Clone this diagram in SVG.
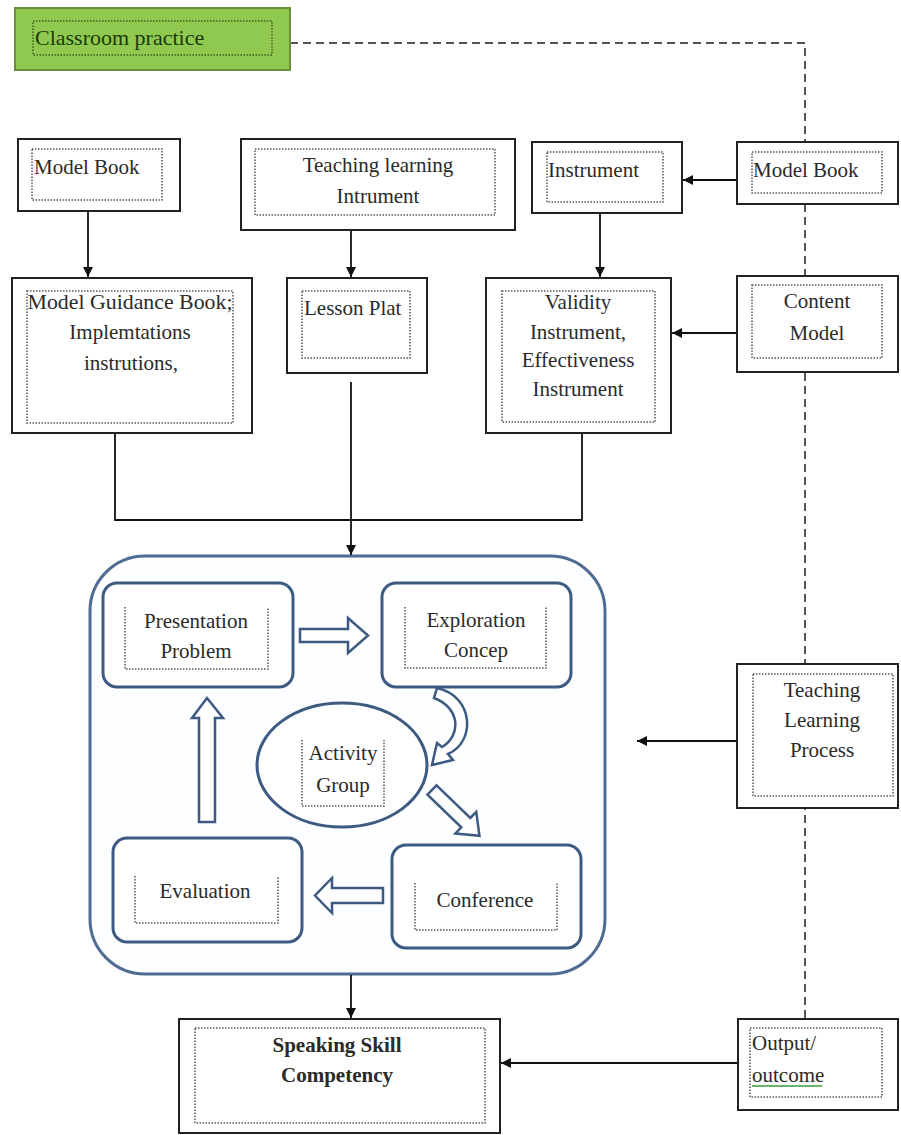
<svg xmlns="http://www.w3.org/2000/svg" width="901" height="1135" viewBox="0 0 901 1135" font-family="Liberation Serif, Times New Roman, serif">
<defs>
<marker id="ah" viewBox="0 0 10 10" refX="10" refY="5" markerWidth="10" markerHeight="10" markerUnits="userSpaceOnUse" orient="auto">
<path d="M0,0 L10,5 L0,10 Z" fill="#111"/>
</marker>
</defs>
<style>
text{font-size:21px;fill:#2a2a2a}
.m{text-anchor:middle}
.b{font-weight:bold}
.box{fill:#fff;stroke:#222;stroke-width:2}
.dot{fill:none;stroke:#555;stroke-width:1.5;stroke-dasharray:1.5 1.5}
.rbox{fill:#fff;stroke:#3c5a82;stroke-width:3}
.blk{fill:#fff;stroke:#3c5a82;stroke-width:2.5;stroke-linejoin:miter}
.ln{fill:none;stroke:#111;stroke-width:1.8}
.dash{fill:none;stroke:#555;stroke-width:2;stroke-dasharray:8 5}
</style>
<rect width="901" height="1135" fill="#fff"/>
<g id="container">
<rect x="90" y="556" width="515" height="418" rx="55" ry="55" fill="#fdfeff" stroke="#4f6c94" stroke-width="3"/>
</g>
<g id="connectors">
<path class="dash" d="M290,43 H805 V1019"/>
<line class="ln" x1="88" y1="211" x2="88" y2="277" marker-end="url(#ah)"/>
<line class="ln" x1="351" y1="230" x2="351" y2="277" marker-end="url(#ah)"/>
<line class="ln" x1="600" y1="213" x2="600" y2="277" marker-end="url(#ah)"/>
<line class="ln" x1="737" y1="180" x2="683" y2="180" marker-end="url(#ah)"/>
<line class="ln" x1="737" y1="333" x2="672" y2="333" marker-end="url(#ah)"/>
<polyline class="ln" points="115,433 115,520 582,520 582,433"/>
<line class="ln" x1="351" y1="382" x2="351" y2="555" marker-end="url(#ah)"/>
<line class="ln" x1="737" y1="741" x2="637" y2="741" marker-end="url(#ah)"/>
<line class="ln" x1="351" y1="975" x2="351" y2="1018" marker-end="url(#ah)"/>
<line class="ln" x1="738" y1="1063" x2="501" y2="1063" marker-end="url(#ah)"/>
<polygon class="blk" points="300,629 348,629 348,618 368,635.5 348,653 348,642 300,642"/>
<polygon class="blk" points="199,822 199,718 192,718 207,698 223,718 215,718 215,822"/>
<polygon class="blk" points="383,888 332,888 332,878 315,895.5 332,913 332,903 383,903"/>
<polygon class="blk" transform="translate(432,790) rotate(44)" points="0,-6.5 47,-6.5 47,-15 66,0 47,15 47,6.5 0,6.5"/>
<path class="blk" d="M437,688 C474,696 476,742 448,754 L453,760 L432,765 L437,743 L442,747 C461,736 461,708 434,698 Z"/>
</g>
<g id="classroom-practice">
<rect x="15" y="8" width="275" height="62" fill="#8fc94f" stroke="#6b8e3a" stroke-width="2"/>
<rect x="33" y="21" width="239" height="34" fill="none" stroke="#3f5e1e" stroke-width="1.5" stroke-dasharray="1.5 1.5"/>
<text x="35" y="45" style="font-size:22px;fill:#1d3a0c">Classroom practice</text>
</g>
<g id="model-book-left">
<rect class="box" x="18" y="139" width="162" height="72"/>
<rect class="dot" x="32" y="149" width="130" height="51"/>
<text x="34" y="174">Model Book</text>
</g>
<g id="teaching-learning-instrument">
<rect class="box" x="241" y="139" width="274" height="91"/>
<rect class="dot" x="255" y="149" width="240" height="66"/>
<text class="m" x="378" y="172">Teaching learning</text>
<text class="m" x="378" y="203">Intrument</text>
</g>
<g id="instrument">
<rect class="box" x="532" y="142" width="150" height="71"/>
<rect class="dot" x="547" y="152" width="116" height="50"/>
<text x="548" y="177">Instrument</text>
</g>
<g id="model-book-right">
<rect class="box" x="737" y="142" width="161" height="62"/>
<rect class="dot" x="752" y="152" width="130" height="41"/>
<text x="753" y="177">Model Book</text>
</g>
<g id="model-guidance-book">
<rect class="box" x="12" y="278" width="240" height="155"/>
<rect class="dot" x="27" y="291" width="206" height="132"/>
<text class="m" x="130" y="309" textLength="205" lengthAdjust="spacingAndGlyphs">Model Guidance Book;</text>
<text class="m" x="130" y="339">Implemtations</text>
<text class="m" x="131" y="370">instrutions,</text>
</g>
<g id="lesson-plat">
<rect class="box" x="287" y="278" width="140" height="95"/>
<rect class="dot" x="302" y="291" width="108" height="67"/>
<text x="304" y="315">Lesson Plat</text>
</g>
<g id="validity-instrument">
<rect class="box" x="486" y="278" width="185" height="155"/>
<rect class="dot" x="502" y="291" width="153" height="131"/>
<text class="m" x="578" y="309">Validity</text>
<text class="m" x="578" y="339">Instrument,</text>
<text class="m" x="578" y="367">Effectiveness</text>
<text class="m" x="578" y="396">Instrument</text>
</g>
<g id="content-model">
<rect class="box" x="737" y="276" width="161" height="96"/>
<rect class="dot" x="752" y="285" width="130" height="73"/>
<text class="m" x="817" y="308">Content</text>
<text class="m" x="817" y="340">Model</text>
</g>
<g id="presentation-problem">
<rect class="rbox" x="103" y="583" width="190" height="104" rx="14"/>
<path class="dot" d="M125,607 V669 H268 V607"/>
<text class="m" x="196" y="628">Presentation</text>
<text class="m" x="196" y="658">Problem</text>
</g>
<g id="exploration-concep">
<rect class="rbox" x="382" y="583" width="189" height="104" rx="14"/>
<path class="dot" d="M405,607 V668 H546 V607"/>
<text class="m" x="476" y="627">Exploration</text>
<text class="m" x="476" y="657">Concep</text>
</g>
<g id="activity-group">
<ellipse cx="342" cy="765" rx="85" ry="62" fill="#fff" stroke="#3c5a82" stroke-width="3"/>
<path class="dot" d="M302,740 V806 H384 V740"/>
<text class="m" x="343" y="760">Activity</text>
<text class="m" x="343" y="792">Group</text>
</g>
<g id="evaluation">
<rect class="rbox" x="113" y="838" width="189" height="104" rx="14"/>
<path class="dot" d="M135,876 V923 H278 V876"/>
<text class="m" x="205" y="898">Evaluation</text>
</g>
<g id="conference">
<rect class="rbox" x="392" y="845" width="189" height="103" rx="14"/>
<path class="dot" d="M415,883 V930 H557 V883"/>
<text class="m" x="485" y="907">Conference</text>
</g>
<g id="teaching-learning-process">
<rect class="box" x="737" y="664" width="161" height="144"/>
<rect class="dot" x="753" y="674" width="140" height="122"/>
<text class="m" x="822" y="697">Teaching</text>
<text class="m" x="822" y="727">Learning</text>
<text class="m" x="822" y="757">Process</text>
</g>
<g id="speaking-skill-competency">
<rect class="box" x="179" y="1019" width="321" height="114"/>
<rect class="dot" x="195" y="1028" width="290" height="95"/>
<text class="m b" x="337" y="1052">Speaking Skill</text>
<text class="m b" x="337" y="1082">Competency</text>
</g>
<g id="output-outcome">
<rect class="box" x="738" y="1019" width="160" height="91"/>
<rect class="dot" x="750" y="1028" width="132" height="69"/>
<text x="752" y="1050">Output/</text>
<text x="752" y="1082">outcome</text>
<line x1="752" y1="1086" x2="822" y2="1086" stroke="#3a9a3a" stroke-width="1.5"/>
</g>
</svg>
